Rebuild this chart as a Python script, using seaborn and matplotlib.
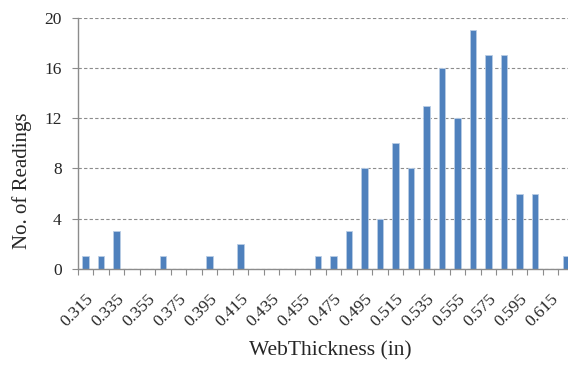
import numpy as np
import pandas as pd
import seaborn as sns
import matplotlib.pyplot as plt
from matplotlib.ticker import FixedLocator

# web thickness bins (in) and number of readings per bin
thickness = ["0.315", "0.325", "0.335", "0.345", "0.355", "0.365", "0.375", "0.385",
             "0.395", "0.405", "0.415", "0.425", "0.435", "0.445", "0.455", "0.465",
             "0.475", "0.485", "0.495", "0.505", "0.515", "0.525", "0.535", "0.545",
             "0.555", "0.565", "0.575", "0.585", "0.595", "0.605", "0.615", "0.625"]
readings = [1, 1, 3, 0, 0, 1, 0, 0,
            1, 0, 2, 0, 0, 0, 0, 1,
            1, 3, 8, 4, 10, 8, 13, 16,
            12, 19, 17, 17, 6, 6, 0, 1]
y_ticks = [0, 4, 8, 12, 16, 20]

df = pd.DataFrame({"thickness": thickness, "readings": readings})

sns.set_style("white")
plt.rcParams['font.family'] = ['Liberation Serif', 'DejaVu Serif']

fig = plt.figure(figsize=(5.68, 3.65), dpi=100)
ax = fig.add_axes([0.137, 0.263, 0.873, 0.689])

sns.barplot(data=df, x="thickness", y="readings", order=thickness, color="#4f81bd",
            saturation=1, width=0.4, edgecolor="#b9cde5", linewidth=0.6, ax=ax)

n = len(thickness)
ax.set_xlim(-0.5, n - 0.5)
ax.set_ylim(0, 20)
ax.set_yticks(y_ticks)
ax.yaxis.grid(True, linestyle=(0, (3, 2)), color="#8c8c8c", linewidth=0.8)
ax.set_axisbelow(True)

# tick marks at bin edges, labels at every second bin centre
ax.xaxis.set_major_locator(FixedLocator(np.arange(n + 1) - 0.5))
ax.xaxis.set_minor_locator(FixedLocator(np.arange(0, n, 2)))
ax.set_xticklabels([], minor=False)
ax.set_xticklabels(thickness[::2], minor=True, rotation=45, ha="right",
                   rotation_mode="anchor", fontsize=12.5)
ax.tick_params(axis="x", which="major", length=4, width=0.8, color="#8c8c8c", direction="out", bottom=True)
ax.tick_params(axis="x", which="minor", length=0, pad=16)
ax.tick_params(axis="y", length=4, width=0.8, color="#8c8c8c", direction="out", left=True,
               labelsize=12.5, pad=7.5)

for s in ["top", "right"]:
    ax.spines[s].set_visible(False)
for s in ["left", "bottom"]:
    ax.spines[s].set_color("#8c8c8c")
    ax.spines[s].set_linewidth(1.0)

ax.set_xlabel("WebThickness (in)", fontsize=15.5, va="top")
ax.xaxis.set_label_coords(0.509, -0.286)
ax.set_ylabel("No. of Readings", fontsize=15, va="center")
ax.yaxis.set_label_coords(-0.113, 0.35)

plt.savefig("out.png", dpi=100)
